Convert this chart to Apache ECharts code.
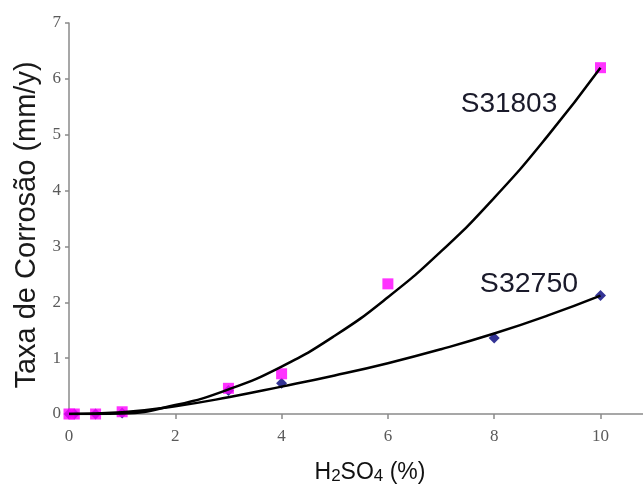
<!DOCTYPE html>
<html><head><meta charset="utf-8">
<script src="https://cdn.jsdelivr.net/npm/echarts@6/dist/echarts.min.js"></script>
<style>html,body{margin:0;padding:0;background:#fff}#c{width:643px;height:486px}</style>
</head><body><div id="c"></div>
<script>
// Measured points
const s31803X = [0, 0.1, 0.5, 1, 3, 4, 6, 10];
const s31803Y = [0, 0, 0, 0.04, 0.46, 0.72, 2.33, 6.2];
const s32750X = [0, 0.1, 0.5, 1, 3, 4, 8, 10];
const s32750Y = [0, 0, 0, 0.02, 0.42, 0.55, 1.36, 2.12];
// Trend lines
const fitX = [0, 1, 2, 3, 4, 5, 6, 7, 8, 9, 10];
const fit31803 = [0, 0.01, 0.16, 0.44, 0.85, 1.40, 2.09, 2.91, 3.87, 4.97, 6.2];
const fit32750 = [0, 0.03, 0.14, 0.30, 0.49, 0.69, 0.91, 1.16, 1.44, 1.76, 2.12];
const xTickLabels = [0, 2, 4, 6, 8, 10];
const yTickLabels = [0, 1, 2, 3, 4, 5, 6, 7];
const seriesNames = ['S31803', 'S32750'];

const zip = (a, b) => a.map((v, i) => [v, b[i]]);
const chart = echarts.init(document.getElementById('c'));
const axisGray = '#8a8a8a';
chart.setOption({
  animation: false,
  backgroundColor: '#fff',
  grid: { left: 69, right: 0, top: 23, bottom: 72, containLabel: false, outerBoundsMode: 'none' },
  xAxis: {
    type: 'value', min: 0, max: 10.8, interval: 2,
    axisLine: { show: true, lineStyle: { color: axisGray, width: 1.5 } },
    axisTick: { show: true, length: 5, lineStyle: { color: axisGray, width: 1.5 } },
    splitLine: { show: false },
    axisLabel: {
      showMaxLabel: false, margin: 14,
      fontFamily: 'Liberation Serif', fontSize: 17, color: '#5a5a5a',
      formatter: v => xTickLabels.includes(v) ? String(v) : ''
    },
    name: '{n|H}{s|2}{n|SO}{s|4}{n| (%)}',
    nameLocation: 'middle', nameGap: 46,
    nameTextStyle: {
      padding: [0, 0, 0, 28],
      rich: {
        n: { fontFamily: 'Liberation Sans', fontSize: 23, color: '#111' },
        s: { fontFamily: 'Liberation Sans', fontSize: 17, color: '#111', verticalAlign: 'bottom', padding: [8, 0, 0, 0] }
      }
    }
  },
  yAxis: {
    type: 'value', min: 0, max: 7, interval: 1,
    axisLine: { show: true, lineStyle: { color: axisGray, width: 1.5 } },
    axisTick: { show: true, length: 4, lineStyle: { color: axisGray, width: 1.5 } },
    splitLine: { show: false },
    axisLabel: {
      margin: 8, fontFamily: 'Liberation Serif', fontSize: 17, color: '#5a5a5a',
      formatter: v => yTickLabels.includes(v) ? String(v) : ''
    }
  },
  graphic: [
    { type: 'text', x: 27, y: 225, rotation: Math.PI / 2,
      style: { text: 'Taxa de Corrosão (mm/y)', fontFamily: 'Liberation Sans', fontSize: 29, fill: '#1a1a1a', align: 'center', verticalAlign: 'middle' } },
    { type: 'text', x: 509, y: 104,
      style: { text: seriesNames[0], fontFamily: 'Liberation Sans', fontSize: 28, fill: '#1a1a2a', align: 'center', verticalAlign: 'middle' } },
    { type: 'text', x: 529, y: 284,
      style: { text: seriesNames[1], fontFamily: 'Liberation Sans', fontSize: 28.5, fill: '#1a1a2a', align: 'center', verticalAlign: 'middle' } }
  ],
  series: [
    { name: seriesNames[1], type: 'scatter', symbol: 'diamond', symbolSize: 11,
      itemStyle: { color: '#00007a' }, z: 2, data: zip(s32750X, s32750Y) },
    { name: seriesNames[0], type: 'scatter', symbol: 'rect', symbolSize: 11,
      itemStyle: { color: '#ff00ff' }, z: 3, data: zip(s31803X, s31803Y) },
    { name: seriesNames[0] + ' fit', type: 'line', smooth: 0.5, showSymbol: false, z: 4,
      lineStyle: { color: '#000', width: 2.5 }, data: zip(fitX, fit31803) },
    { name: seriesNames[1] + ' fit', type: 'line', smooth: 0.5, showSymbol: false, z: 4,
      lineStyle: { color: '#000', width: 2.5 }, data: zip(fitX, fit32750) }
  ]
});
</script></body></html>
